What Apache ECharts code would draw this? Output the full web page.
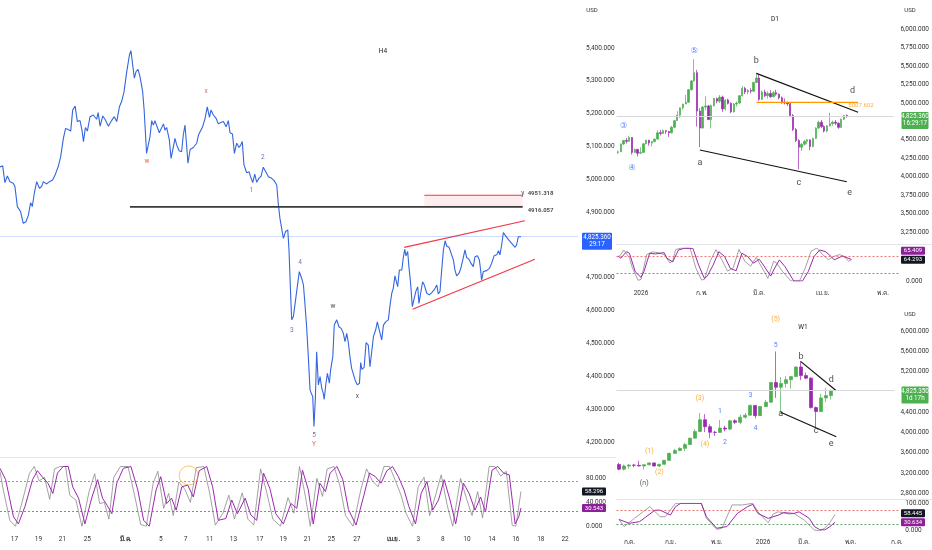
<!DOCTYPE html>
<html>
<head>
<meta charset="utf-8">
<title>XAUUSD H4 / D1 / W1</title>
<script src="https://cdn.jsdelivr.net/npm/echarts@6.0.0/dist/echarts.min.js"></script>
<style>
html,body{margin:0;padding:0;background:#ffffff;}
#chart{width:932px;height:550px;}
</style>
</head>
<body>
<div id="chart"></div>
<script>
// ================= DATA =================
// H4 close line: [bar slot, price]
const h4Price = [[0,5038],[1.1,5041],[2,4990],[3,5010],[4.1,4993],[5.4,4988],[6.1,4978],[7.1,4917],[7.9,4922],[8.4,4902],[9.5,4866],[10.6,4871],[11.6,4891],[12.5,4929],[13.2,4917],[14,4957],[15,4993],[16.1,4973],[17,4978],[17.7,4993],[19.1,4986],[20.2,4993],[21.5,4998],[22.5,5013],[23.8,5039],[24.8,5069],[25.9,5125],[26.8,5155],[27.9,5152],[28.9,5147],[29.7,5211],[30.7,5223],[31.6,5176],[32.7,5179],[33.5,5150],[34.1,5115],[34.9,5158],[35.7,5147],[36.8,5191],[38.1,5196],[39.5,5183],[40.1,5203],[40.9,5162],[42,5193],[42.9,5183],[44.3,5162],[45.6,5179],[46.7,5191],[47.7,5176],[48.8,5221],[49.7,5237],[50.7,5267],[51.8,5328],[52.9,5379],[53.5,5392],[54.2,5391],[54.9,5308],[55.6,5328],[56.4,5335],[57.2,5313],[58.3,5267],[58.9,5211],[59.4,5145],[59.9,5079],[60.5,5081],[61.3,5130],[62,5179],[62.7,5165],[63.3,5179],[64,5173],[65.1,5142],[65.8,5140],[66.8,5169],[67.4,5150],[68.1,5158],[69.2,5120],[69.9,5064],[70.6,5089],[71.5,5125],[72.2,5105],[73.2,5087],[74.2,5084],[74.9,5135],[75.6,5165],[76.3,5100],[76.8,5049],[77.7,5091],[79,5097],[80.4,5110],[81.1,5135],[81.7,5130],[82.8,5160],[83.8,5186],[84.7,5221],[85.6,5189],[86.2,5211],[87.2,5196],[88.3,5186],[89.2,5169],[90.2,5173],[91.3,5176],[92.4,5160],[93.3,5179],[94,5142],[95,5138],[95.8,5079],[96.7,5110],[97.7,5097],[98.4,5105],[99,5115],[99.7,5044],[100.8,5020],[101.8,5023],[102.4,5008],[103.3,4990],[104.1,5016],[104.9,4991],[105.8,5003],[106.7,5010],[107.6,5037],[108.6,5023],[109.7,5008],[111,5003],[112,4996],[113.1,4983],[113.7,4927],[114.4,4881],[115.1,4876],[115.8,4820],[116.7,4841],[117.6,4846],[118.1,4785],[118.8,4643],[119.2,4572],[119.9,4582],[120.6,4622],[121,4645],[121.5,4648],[122.3,4719],[123.3,4698],[124,4678],[124.6,4622],[125.3,4551],[126,4460],[126.7,4358],[127.4,4363],[127.8,4338],[128.3,4247],[128.9,4338],[129.4,4475],[130.1,4374],[130.8,4399],[131.5,4363],[132.1,4348],[132.5,4330],[133.2,4379],[133.8,4409],[134.6,4379],[135.1,4419],[136,4460],[136.6,4556],[137.6,4572],[138.5,4551],[139.4,4546],[140.3,4531],[141,4506],[141.7,4531],[142.4,4500],[143,4460],[143.7,4424],[144.4,4424],[145.1,4389],[146,4374],[146.9,4379],[147.4,4442],[147.9,4421],[148.8,4427],[149.6,4503],[150.5,4495],[151.2,4429],[151.9,4475],[152.6,4521],[153.5,4541],[154.2,4566],[155,4541],[156,4511],[156.7,4556],[157.6,4566],[158.7,4572],[159.4,4617],[160.1,4653],[160.7,4668],[161.4,4706],[162.1,4709],[162.5,4673],[163.2,4724],[164.2,4724],[164.8,4762],[165.4,4787],[165.9,4767],[166.6,4780],[167.1,4734],[167.8,4683],[168.5,4612],[169.2,4607],[169.9,4658],[170.7,4673],[171.2,4622],[171.9,4622],[172.7,4688],[173.4,4678],[174.4,4653],[175.5,4648],[176.4,4655],[177.4,4663],[178.5,4678],[179.1,4651],[179.8,4658],[180.5,4724],[181.2,4785],[181.9,4813],[182.5,4797],[183.5,4793],[184.3,4790],[185.3,4754],[185.9,4724],[186.6,4706],[187.6,4714],[188.3,4729],[189.1,4754],[190,4785],[190.7,4762],[191.7,4756],[192.5,4744],[193.4,4734],[194.1,4764],[195.1,4767],[195.9,4754],[196.4,4724],[196.8,4693],[197.5,4719],[198.9,4722],[200,4729],[200.9,4744],[201.9,4767],[203,4770],[203.7,4783],[204.3,4770],[205,4800],[205.7,4838],[206.4,4830],[207.7,4817],[209.1,4805],[210.5,4793],[211.1,4800],[211.8,4825],[212.5,4828],[212.9,4825.36]];

const h4StochD = [[0,97],[2.3,78],[5.5,16],[7.5,4],[10.2,33],[13.3,78],[15.3,93],[17.2,83],[19.6,72],[21.6,55],[23.5,89],[25.8,100],[27.9,100],[29.7,66],[32.1,47],[34.7,4],[37.6,49],[39.9,78],[41.9,47],[43.8,35],[45.7,21],[47.7,72],[50.4,97],[53.5,100],[56.3,61],[58.7,10],[61,0],[63.8,61],[65.7,83],[68.1,38],[70.1,47],[72,27],[74.3,66],[76.7,69],[79,49],[81.4,93],[84.5,100],[86.9,66],[89.2,10],[92.3,13],[94.7,44],[97,21],[100.2,47],[102.5,19],[104.9,10],[107.7,89],[110.3,63],[112.7,21],[115.8,4],[118.9,38],[121.3,30],[123.6,94],[126,61],[128,4],[130.7,72],[133,58],[134.9,89],[137.7,100],[140.1,78],[142.4,28],[145.5,2],[148.7,52],[151,89],[153.4,83],[155.7,72],[158.1,93],[160.4,100],[162.8,83],[165.1,61],[167.1,33],[169.8,4],[172.1,55],[174.5,75],[176.8,27],[179.2,44],[181.5,78],[183.9,44],[186.2,4],[189.4,72],[191.7,55],[194.1,27],[196.4,49],[198.4,24],[201.1,94],[203.4,100],[205.8,89],[208.1,86],[210.5,4],[212,16],[212.9,30.543]];
const h4StochK = [[0,92],[1.3,62],[4,10],[6.3,0],[9,40],[12,88],[14,100],[16,76],[18.2,82],[20.3,45],[22.3,96],[24.5,100],[26.8,100],[28.5,52],[31,44],[33.5,0],[36.4,58],[38.7,88],[40.7,38],[42.6,40],[44.5,12],[46.5,82],[49.2,100],[52.3,100],[55,52],[57.5,3],[59.8,0],[62.6,72],[64.5,92],[66.9,30],[68.9,55],[70.8,18],[73.1,74],[75.5,62],[77.8,40],[80.2,98],[83.3,100],[85.7,55],[88,2],[91.1,22],[93.5,52],[95.8,12],[99,56],[101.3,12],[103.7,2],[106.5,96],[109.1,55],[111.5,12],[114.6,0],[117.7,48],[120.1,22],[122.4,100],[124.8,50],[126.8,0],[129.5,80],[131.8,50],[133.7,96],[136.5,100],[138.9,68],[141.2,18],[144.3,0],[147.5,62],[149.8,96],[152.2,76],[154.5,66],[156.9,100],[159.2,100],[161.6,76],[163.9,52],[165.9,22],[168.6,0],[170.9,66],[173.3,82],[175.6,18],[178,52],[180.3,86],[182.7,36],[185,0],[188.2,80],[190.5,48],[192.9,18],[195.2,58],[197.2,14],[199.9,100],[202.2,100],[204.6,84],[206.9,92],[209.3,2],[210.8,0],[212.9,58.296]];

const h4TickSlots = [5.9,15.7,25.5,35.7,51.3,65.7,75.8,85.7,95.4,106.1,115.7,125.6,135.4,145.8,160.8,170.9,181,190.8,201,210.8,221,230.9];
const h4TickLabels = ['17','19','21','25','มี.ค.','5','7','11','13','17','19','21','25','27','เม.ย.','3','8','10','14','16','18','22'];

const lastPriceH4 = 4825.36;
const lastPriceD1 = 4825.36;
const lastPriceW1 = 4825.35;
const h4Support = 4916.057;
const h4Target = 4951.318;
const h4SupportLine = [[53.1,4916.057],[213.6,4916.057]];
const h4TargetLine = [[173.4,4951.318],[213.6,4951.318]];
const h4ChannelUpper = [[165.2,4792.8],[214.5,4874.1]];
const h4ChannelLower = [[168.6,4604],[218.6,4756.3]];
const h4Labels = [
  ['w',60,5054,'#e53935'],['x',84.2,5269,'#e53935'],
  ['1',102.7,4967,'#5e4b9c'],['2',107.4,5066,'#5e4b9c'],
  ['3',119.3,4539,'#5e4b9c'],['4',122.6,4747,'#5e4b9c'],['5',128.3,4221,'#5e4b9c'],['Y',128.3,4194,'#e53935'],
  ['w',136.1,4612,'#222'],['x',146,4338,'#222']
];
const h4Circle = [77.1, 85];

// D1 candles: [open, high, low, close], one per trading day from 19 Dec 2025
const d1Candles = [[4330,4355,4310,4338],[4338,4450,4335,4444],[4444,4497,4430,4491],[4491,4526,4450,4480],[4480,4550,4475,4532],[4532,4535,4300,4330],[4330,4380,4325,4371],[4371,4375,4275,4318],[4318,4400,4310,4330],[4330,4450,4325,4447],[4447,4500,4440,4495],[4495,4500,4420,4456],[4456,4480,4410,4477],[4477,4515,4465,4510],[4510,4630,4505,4597],[4597,4635,4560,4588],[4588,4640,4585,4624],[4624,4630,4580,4614],[4614,4620,4540,4595],[4595,4690,4590,4670],[4670,4765,4660,4760],[4760,4890,4760,4835],[4835,4940,4800,4935],[4935,4990,4910,4985],[4985,5110,4985,5010],[5010,5190,5000,5180],[5180,5310,5170,5300],[5300,5595,5290,5410],[5410,5450,4680,4890],[4890,4930,4402,4660],[4660,4960,4655,4945],[4945,5090,4900,4960],[4960,4975,4770,4775],[4775,4980,4655,4965],[4965,5070,4950,5060],[5060,5075,4995,5025],[5025,5110,5000,5080],[5080,5100,4880,4920],[4920,5050,4900,5040],[5040,5060,4980,4995],[4995,5010,4860,4880],[4880,5000,4870,4985],[4985,5020,4950,5000],[5000,5110,4990,5100],[5100,5230,5090,5200],[5200,5220,5120,5150],[5150,5190,5120,5170],[5170,5200,5130,5160],[5160,5290,5150,5280],[5280,5410,5270,5340],[5340,5380,5030,5050],[5050,5170,5040,5150],[5150,5180,5080,5100],[5100,5160,5060,5130],[5130,5175,5070,5085],[5085,5160,5080,5140],[5140,5180,5100,5120],[5120,5130,5050,5070],[5070,5090,4990,5010],[5010,5060,4980,5000],[5000,5020,4960,4990],[4990,5000,4820,4830],[4830,4850,4620,4640],[4640,4660,4470,4490],[4490,4510,4100,4400],[4400,4460,4350,4440],[4440,4500,4420,4480],[4480,4510,4440,4500],[4500,4505,4360,4410],[4410,4530,4400,4520],[4520,4670,4510,4660],[4660,4760,4650,4740],[4740,4770,4660,4680],[4680,4700,4600,4620],[4620,4700,4600,4690],[4690,4870,4680,4720],[4720,4760,4690,4740],[4740,4770,4700,4725],[4725,4740,4650,4670],[4670,4790,4660,4780],[4780,4840,4770,4830],[4830,4845,4800,4825.36]];
const d1StochD = [[0,76],[1,69],[3,89],[4,84],[6,28],[8,11],[9,28],[11,84],[13,82],[16,86],[17,69],[19,58],[21,94],[23,99],[26,99],[28,48],[30,8],[31,15],[33,48],[35,89],[37,74],[39,38],[41,31],[43,84],[45,74],[47,54],[49,66],[50,54],[53,15],[54,33],[56,64],[58,43],[61,0],[64,0],[66,28],[68,74],[70,94],[72,89],[74,74],[75,64],[78,76],[79,72],[81,65.409]];
const d1StochK = [[0,72],[1,80],[2,94],[4,70],[5,40],[7,2],[8,5],[10,80],[12,88],[14,86],[16,80],[18,55],[19,60],[20,95],[22,100],[25,100],[27,40],[29,3],[30,5],[32,60],[34,95],[36,65],[38,30],[40,40],[42,96],[44,60],[46,45],[48,72],[49,55],[51,25],[52,8],[54,60],[55,55],[57,30],[59,10],[60,0],[63,0],[65,40],[67,90],[69,100],[71,80],[73,65],[75,75],[77,80],[79,70],[80,60],[81,64.293]];
const d1Holidays = ['2025-12-25','2026-01-01','2026-04-03'];
const d1UpperLine = [[49,5403],[85,4874]];
const d1LowerLine = [[29,4362],[81,3932]];
const d1OrangeLevel = 5007.602;
const d1OrangeLine = [[49,5007.602],[85,5007.602]];
const d1Labels = [
  ['⑤',27,5710,'#2962ff',8],['③',2,4688,'#2962ff',8],['④',5,4122,'#2962ff',8],
  ['a',29,4195,'#222',9],['b',49,5570,'#222',9],['c',64,3919,'#222',9],['d',83,5163,'#222',9],['e',82,3783,'#222',9],
  ['5007.602',86,4969,'#ff9800',6]
];

// W1 candles: [open, high, low, close], one per week from 23 Jun 2025
const w1Candles = [[3368,3398,3255,3274],[3274,3365,3248,3337],[3337,3375,3283,3355],[3355,3377,3310,3350],[3350,3440,3325,3337],[3337,3363,3268,3363],[3363,3410,3345,3398],[3398,3405,3330,3336],[3336,3380,3311,3371],[3371,3453,3355,3448],[3448,3600,3435,3586],[3586,3674,3575,3643],[3643,3707,3627,3685],[3685,3791,3630,3760],[3760,3897,3760,3886],[3886,4059,3885,4018],[4018,4381,4005,4250],[4250,4360,4005,4113],[4113,4160,3886,4002],[4002,4030,3930,4000],[4000,4245,3995,4085],[4085,4130,4020,4065],[4065,4250,4040,4230],[4230,4260,4165,4198],[4198,4353,4160,4300],[4300,4380,4270,4338],[4338,4550,4335,4532],[4532,4535,4275,4330],[4330,4515,4325,4510],[4510,4640,4505,4595],[4595,4990,4590,4985],[4985,5595,4680,4890],[4890,5090,4402,4965],[4965,5110,4880,5040],[5040,5110,4860,5100],[5100,5300,5090,5290],[5290,5410,5030,5120],[5120,5180,5050,5070],[5070,5090,4470,4490],[4490,4510,4100,4410],[4410,4760,4400,4680],[4680,4870,4600,4725],[4725,4845,4650,4825.35]];
const w1StochD = [[0,41],[2,27],[4,33],[7,75],[8,75],[10,57],[11,88],[12,100],[16,100],[17,51],[19,9],[21,15],[23,63],[25,88],[26,96],[27,63],[29,45],[31,57],[32,66],[34,63],[35,69],[37,45],[38,15],[39,4],[40,3],[41,15],[42,30.634]];
const w1StochK = [[0,41],[1,15],[3,45],[6,88],[8,51],[9,51],[11,100],[16,100],[17,45],[19,5],[20,9],[22,94],[24,94],[26,100],[27,69],[29,29],[30,61],[31,69],[33,61],[34,63],[36,39],[38,2],[39,0],[40,9],[41,30],[42,58.445]];
const w1UpperLine = [[36,5395],[43,4822]];
const w1LowerLine = [[32,4396],[43,3915]];
const w1Labels = [
  ['(5)',31,6237,'#ff9800',7],['5',31,5710,'#2962ff',7],['(3)',16,4673,'#ff9800',7],['3',26,4724,'#2962ff',7],
  ['1',20,4422,'#2962ff',7],['4',27,4073,'#2962ff',7],['2',21,3805,'#2962ff',7],['(4)',17,3771,'#ff9800',7],
  ['(1)',6,3633,'#ff9800',7],['(2)',8,3213,'#ff9800',7],['(ก)',5,3002,'#222',7],
  ['b',36,5493,'#222',9],['d',42,5047,'#222',9],['a',32,4377,'#222',9],['c',39,4028,'#222',9],['e',42,3771,'#222',9]
];

const thaiMonths = ['ม.ค.','ก.พ.','มี.ค.','เม.ย.','พ.ค.','มิ.ย.','ก.ค.','ส.ค.','ก.ย.','ต.ค.','พ.ย.','ธ.ค.'];

// ================= HELPERS =================
const FONT = 'Roboto, "Noto Sans", "DejaVu Sans", "Noto Sans CJK SC", sans-serif';
const GREEN = '#4caf50', PURPLE = '#9c27b0', BLUE = '#2962ff';
const fmt3 = v => v.toLocaleString('en-US', {minimumFractionDigits: 3, maximumFractionDigits: 3});

function tradingDays(start, count, holidays) {
  const out = []; const d = new Date(start + 'T00:00:00Z');
  while (out.length < count) {
    const wd = d.getUTCDay(); const s = d.toISOString().slice(0, 10);
    if (wd !== 0 && wd !== 6 && holidays.indexOf(s) < 0) out.push(s);
    d.setUTCDate(d.getUTCDate() + 1);
  }
  return out;
}
function weeks(start, count) {
  const out = []; const d = new Date(start + 'T00:00:00Z');
  for (let i = 0; i < count; i++) { out.push(d.toISOString().slice(0, 10)); d.setUTCDate(d.getUTCDate() + 7); }
  return out;
}
const d1Dates = tradingDays('2025-12-19', 98, d1Holidays);
const w1Dates = weeks('2025-06-23', 55);
const isMonthStart = (arr, i) => i > 0 && arr[i].slice(0, 7) !== arr[i - 1].slice(0, 7);
const monthText = s => { const m = +s.slice(5, 7); return m === 1 ? s.slice(0, 4) : thaiMonths[m - 1]; };
const toCandle = rows => rows.map(r => [r[0], r[3], r[2], r[1]]);

const axisLabelBase = {color: '#333', fontSize: 6.5, fontFamily: FONT};
function priceAxis(gridIndex, min, max, interval, hidden, margin) {
  return {
    type: 'value', gridIndex, position: 'right', min, max, interval, scale: true,
    axisLine: {show: false}, axisTick: {show: false}, splitLine: {show: false},
    axisLabel: Object.assign({}, axisLabelBase, {margin, showMinLabel: false, showMaxLabel: false,
      formatter: v => hidden.indexOf(v) >= 0 ? '' : fmt3(v)})
  };
}
function stochAxis(gridIndex, interval, shown, margin) {
  return {
    type: 'value', gridIndex, position: 'right', min: 0, max: 100, interval,
    axisLine: {show: false}, axisTick: {show: false}, splitLine: {show: false},
    axisLabel: Object.assign({}, axisLabelBase, {margin, formatter: v => shown.indexOf(v) >= 0 ? fmt3(v) : ''})
  };
}
function segment(name, data, xi, yi, color, width) {
  return {name, type: 'line', xAxisIndex: xi, yAxisIndex: yi, data, showSymbol: false, symbol: 'none',
    lineStyle: {color, width}, z: 4, silent: true, animation: false};
}
function labelSeries(items, xi, yi, defSize) {
  return {type: 'scatter', xAxisIndex: xi, yAxisIndex: yi, symbolSize: 0.1, silent: true, z: 6,
    itemStyle: {color: 'transparent'},
    label: {show: true, position: 'inside', fontFamily: FONT},
    data: items.map(t => ({value: [t[1], t[2]], label: {formatter: t[0], color: t[3], fontSize: t[4] || defSize}}))};
}
function stochLevels() {
  return {symbol: ['none', 'none'], silent: true, label: {show: false}, animation: false,
    data: [
      {yAxis: 75, lineStyle: {color: '#ef5350', type: [2, 2], width: 0.8}},
      {yAxis: 25, lineStyle: {color: '#3d8b48', type: [2, 2], width: 0.8}}
    ]};
}
function priceLine(value, color) {
  return {symbol: ['none', 'none'], silent: true, label: {show: false}, animation: false,
    data: [{yAxis: value, lineStyle: {color, type: 'solid', width: 1}}]};
}

// ================= CHART =================
const chart = echarts.init(document.getElementById('chart'));
const option = {
  animation: false,
  backgroundColor: '#ffffff',
  textStyle: {fontFamily: FONT},
  grid: [
    {left: 0, top: 15.2, width: 578, height: 459.6},          // H4 price
    {left: 0, top: 466.5, width: 578, height: 59.8},          // H4 stoch
    {left: 616.5, top: 10.9, width: 282.5, height: 239.5},    // D1 price
    {left: 616.5, top: 248, width: 282.5, height: 33},        // D1 stoch
    {left: 616.4, top: 310.7, width: 283.6, height: 202.8},   // W1 price
    {left: 616.4, top: 503.3, width: 283.6, height: 27.4}     // W1 stoch
  ],
  xAxis: [
    {type: 'value', gridIndex: 0, min: 0, max: 236.2, show: false},
    {type: 'value', gridIndex: 1, min: 0, max: 236.2,
      axisLine: {show: false}, splitLine: {show: false},
      axisTick: {show: false, customValues: h4TickSlots},
      axisLabel: Object.assign({}, axisLabelBase, {margin: 10, customValues: h4TickSlots,
        formatter: v => {
          const i = h4TickSlots.findIndex(s => Math.abs(s - v) < 0.01);
          if (i < 0) return '';
          const t = h4TickLabels[i];
          return /\d/.test(t) ? t : '{b|' + t + '}';
        },
        rich: {b: {fontWeight: 'bold', fontSize: 6.5, color: '#333', fontFamily: FONT}}})},
    {type: 'category', gridIndex: 2, data: d1Dates, show: false},
    {type: 'category', gridIndex: 3, data: d1Dates,
      axisLine: {show: false}, axisTick: {show: false}, splitLine: {show: false},
      axisLabel: Object.assign({}, axisLabelBase, {margin: 9,
        interval: i => isMonthStart(d1Dates, i),
        formatter: v => monthText(v)})},
    {type: 'category', gridIndex: 4, data: w1Dates, show: false},
    {type: 'category', gridIndex: 5, data: w1Dates,
      axisLine: {show: false}, axisTick: {show: false}, splitLine: {show: false},
      axisLabel: Object.assign({}, axisLabelBase, {margin: 8,
        interval: i => isMonthStart(w1Dates, i) && (+w1Dates[i].slice(5, 7)) % 2 === 1,
        formatter: v => monthText(v)})}
  ],
  yAxis: [
    priceAxis(0, 4100, 5500, 100, [4800], 8),
    stochAxis(1, 40, [0, 40, 80], 8),
    priceAxis(2, 3000, 6250, 250, [4750], 7),
    stochAxis(3, 100, [0], 7),
    priceAxis(4, 2400, 6400, 400, [4800], 6),
    stochAxis(5, 100, [0, 100], 6)
  ],
  series: [
    // ---- H4 ----
    {name: 'H4', type: 'line', xAxisIndex: 0, yAxisIndex: 0, data: h4Price, showSymbol: false, symbol: 'none',
      lineStyle: {color: '#3466e0', width: 1.1}, z: 3,
      markLine: priceLine(lastPriceH4, 'rgba(41,98,255,0.22)')},
    segment('support', h4SupportLine, 0, 0, '#3a3a3a', 1.8),
    Object.assign(segment('target', h4TargetLine, 0, 0, '#f23645', 1.1), {
      markArea: {silent: true, itemStyle: {color: 'rgba(242,54,69,0.09)'},
        data: [[{coord: [h4TargetLine[0][0], h4Target]}, {coord: [h4TargetLine[1][0], h4Support]}]]}}),
    segment('chanUp', h4ChannelUpper, 0, 0, '#f23645', 1.1),
    segment('chanDn', h4ChannelLower, 0, 0, '#f23645', 1.1),
    labelSeries(h4Labels, 0, 0, 6.5),
    {type: 'scatter', xAxisIndex: 0, yAxisIndex: 0, symbolSize: 0.1, silent: true, itemStyle: {color: 'transparent'},
      data: [
        {value: [213.6, 4957], label: {show: true, position: 'inside', formatter: 'y', color: '#222', fontSize: 6.5}},
        {value: [215.6, 4957], label: {show: true, position: 'right', distance: 0, formatter: fmt3(h4Target).replace(',', ''), color: '#222', fontSize: 6, fontWeight: 'bold'}},
        {value: [215.6, 4904], label: {show: true, position: 'right', distance: 0, formatter: fmt3(h4Support).replace(',', ''), color: '#222', fontSize: 6, fontWeight: 'bold'}}
      ]},
    {name: '%K', type: 'line', xAxisIndex: 1, yAxisIndex: 1, data: h4StochK, showSymbol: false, symbol: 'none',
      lineStyle: {color: '#8a8a8a', width: 0.8}, markLine: stochLevels()},
    {name: '%D', type: 'line', xAxisIndex: 1, yAxisIndex: 1, data: h4StochD, showSymbol: false, symbol: 'none',
      lineStyle: {color: PURPLE, width: 1}},
    {type: 'scatter', xAxisIndex: 1, yAxisIndex: 1, data: [h4Circle], symbol: 'circle', symbolSize: 19, silent: true,
      itemStyle: {color: 'rgba(0,0,0,0)', borderColor: '#f5a623', borderWidth: 0.8}, z: 5},
    // ---- D1 ----
    {name: 'D1', type: 'candlestick', xAxisIndex: 2, yAxisIndex: 2, data: toCandle(d1Candles), barWidth: 1.9,
      itemStyle: {color: GREEN, color0: PURPLE, borderColor: GREEN, borderColor0: PURPLE, borderWidth: 0.7},
      markLine: priceLine(lastPriceD1, '#d6d8de')},
    segment('d1Up', d1UpperLine, 2, 2, '#111', 1.2),
    segment('d1Dn', d1LowerLine, 2, 2, '#111', 1.2),
    segment('d1Orange', d1OrangeLine, 2, 2, '#ff9800', 1.3),
    labelSeries(d1Labels, 2, 2, 9),
    {name: 'd1K', type: 'line', xAxisIndex: 3, yAxisIndex: 3, data: d1StochK, showSymbol: false, symbol: 'none',
      lineStyle: {color: '#8a8a8a', width: 0.8}, markLine: stochLevels()},
    {name: 'd1D', type: 'line', xAxisIndex: 3, yAxisIndex: 3, data: d1StochD, showSymbol: false, symbol: 'none',
      lineStyle: {color: PURPLE, width: 1}},
    // ---- W1 ----
    {name: 'W1', type: 'candlestick', xAxisIndex: 4, yAxisIndex: 4, data: toCandle(w1Candles), barWidth: 3.5,
      itemStyle: {color: GREEN, color0: PURPLE, borderColor: GREEN, borderColor0: PURPLE, borderWidth: 0.7},
      markLine: priceLine(lastPriceW1, '#d6d8de')},
    segment('w1Up', w1UpperLine, 4, 4, '#111', 1.2),
    segment('w1Dn', w1LowerLine, 4, 4, '#111', 1.2),
    labelSeries(w1Labels, 4, 4, 7),
    {name: 'w1K', type: 'line', xAxisIndex: 5, yAxisIndex: 5, data: w1StochK, showSymbol: false, symbol: 'none',
      lineStyle: {color: '#8a8a8a', width: 0.8}, markLine: stochLevels()},
    {name: 'w1D', type: 'line', xAxisIndex: 5, yAxisIndex: 5, data: w1StochD, showSymbol: false, symbol: 'none',
      lineStyle: {color: PURPLE, width: 1}}
  ]
};
chart.setOption(option);

// ---- value boxes on the price scales (positions from the axes) ----
const gfx = [];
const txt = (x, y, text, size, color, weight) => ({type: 'text', x, y, z: 101, silent: true,
  style: {text, fill: color, font: (weight || 'normal') + ' ' + size + 'px ' + FONT, align: 'center', verticalAlign: 'middle'}});
function priceBox(x, w, yIdx, value, fill, l1, l2) {
  const y = chart.convertToPixel({yAxisIndex: yIdx}, value);
  gfx.push({type: 'rect', z: 100, silent: true, shape: {x, y: y - 4, width: w, height: 17, r: 1}, style: {fill}});
  gfx.push(txt(x + w / 2, y + 0.6, l1, 6.3, '#fff'));
  gfx.push(txt(x + w / 2, y + 7.8, l2, 6.3, '#fff'));
}
function stochBoxes(x, yIdx, kVal, dVal) {
  const k = {y: chart.convertToPixel({yAxisIndex: yIdx}, kVal), v: kVal, fill: '#131722'};
  const d = {y: chart.convertToPixel({yAxisIndex: yIdx}, dVal), v: dVal, fill: '#8e1f9a'};
  if (Math.abs(k.y - d.y) < 8.5) { if (k.y <= d.y) k.y = d.y - 9; else d.y = k.y - 9; }
  [k, d].forEach(b => {
    gfx.push({type: 'rect', z: 100, silent: true, shape: {x, y: b.y - 4, width: 24, height: 8, r: 1}, style: {fill: b.fill}});
    gfx.push(txt(x + 12, b.y, fmt3(b.v), 6, '#fff'));
  });
}
priceBox(582, 30, 0, lastPriceH4, BLUE, fmt3(lastPriceH4), '29:17');
priceBox(901.5, 27, 2, lastPriceD1, GREEN, fmt3(lastPriceD1), '16:29:17');
priceBox(901.5, 27, 4, lastPriceW1, GREEN, fmt3(lastPriceW1), '1d 17h');
stochBoxes(582, 1, 58.296, 30.543);
stochBoxes(901, 3, 64.293, 65.409);
stochBoxes(901, 5, 58.445, 30.634);

// separators and titles
const sep = (x1, y, x2) => ({type: 'line', silent: true, z: 1, shape: {x1, y1: y, x2, y2: y}, style: {stroke: '#e3e5ea', lineWidth: 1}});
gfx.push(sep(0, 457.5, 616), sep(616, 244.5, 932), sep(616, 499.5, 932));
gfx.push(txt(383, 51, 'H4', 6.5, '#222'), txt(775, 19, 'D1', 6.5, '#222'), txt(803, 327, 'W1', 6.5, '#222'));
gfx.push(txt(592, 10, 'USD', 6, '#333'), txt(910, 10, 'USD', 6, '#333'), txt(910, 314, 'USD', 6, '#333'));
chart.setOption({graphic: gfx});
</script>
</body>
</html>
